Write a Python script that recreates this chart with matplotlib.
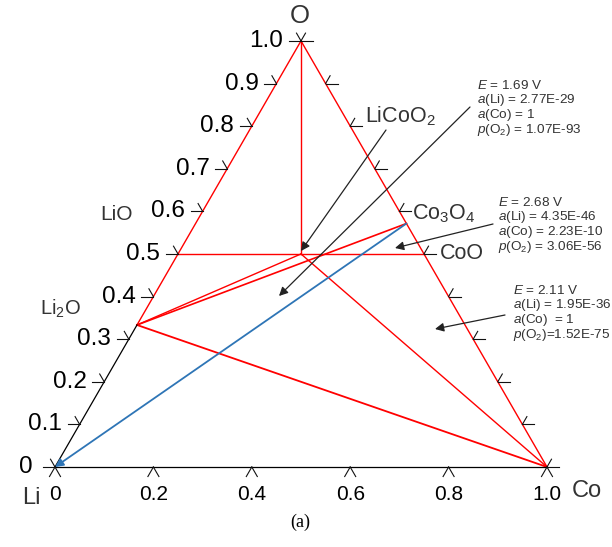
import numpy as np
import matplotlib
matplotlib.use('Agg')
import matplotlib.pyplot as plt

plt.rcParams['font.family'] = ['Liberation Sans', 'DejaVu Sans']
plt.rcParams['mathtext.fontset'] = 'custom'
plt.rcParams['mathtext.rm'] = 'Liberation Sans'
plt.rcParams['mathtext.it'] = 'Liberation Sans:italic'

# phases as (Li, Co, O) fractions
phase_names = ['Li', 'Co', 'O', 'Li2O', 'LiO', 'LiCoO2', 'Co3O4', 'CoO']
phase_comp = [(1, 0, 0), (0, 1, 0), (0, 0, 1), (2/3, 0, 1/3), (0.5, 0, 0.5),
              (0.25, 0.25, 0.5), (0, 3/7, 4/7), (0, 0.5, 0.5)]

# red tie lines / boundaries
red_lines = [('O', 'Co'), ('O', 'Li2O'), ('O', 'LiCoO2'), ('LiO', 'CoO'),
             ('Li2O', 'Co3O4'), ('Li2O', 'LiCoO2'), ('LiCoO2', 'Co')]
red_widths = [1.0, 1.0, 1.0, 1.0, 1.2, 1.0, 1.0]
thick_lines = [('Li2O', 'Co')]
black_lines = [('Li2O', 'Li'), ('Li', 'Co')]

left_ticks = [0, 0.1, 0.2, 0.3, 0.4, 0.5, 0.6, 0.7, 0.8, 0.9, 1.0]
left_labels = ['0', '0.1', '0.2', '0.3', '0.4', '0.5', '0.6', '0.7', '0.8', '0.9', '1.0']
bottom_ticks = [0, 0.2, 0.4, 0.6, 0.8, 1.0]
bottom_labels = ['0', '0.2', '0.4', '0.6', '0.8', '1.0']

notes = [
    [r'$\it{E}$ = 1.69 V', r'$\it{a}$(Li) = 2.77E-29', r'$\it{a}$(Co) = 1', r'$\it{p}$(O$_2$) = 1.07E-93'],
    [r'$\it{E}$ = 2.68 V', r'$\it{a}$(Li) = 4.35E-46', r'$\it{a}$(Co) = 2.23E-10', r'$\it{p}$(O$_2$) = 3.06E-56'],
    [r'$\it{E}$ = 2.11 V', r'$\it{a}$(Li) = 1.95E-36', r'$\it{a}$(Co)  = 1', r'$\it{p}$(O$_2$)=1.52E-75'],
]

H = np.sqrt(3) / 2
P = {n: (c[1] + c[2] / 2, c[2] * H) for n, c in zip(phase_names, phase_comp)}


def px(x, y):
    # pixel position -> data coordinates (layout only)
    return ((x - 55) / 492, (467 - y) / 492)


fig = plt.figure(figsize=(6.12, 5.47), dpi=100)
ax = fig.add_axes([0, 0, 1, 1])
ax.set_xlim(-55 / 492, 557 / 492)
ax.set_ylim(-80 / 492, 467 / 492)
ax.axis('off')

for (a, b), w in zip(red_lines, red_widths):
    ax.plot([P[a][0], P[b][0]], [P[a][1], P[b][1]], color='#ff0000', lw=w)
for a, b in thick_lines:
    ax.plot([P[a][0], P[b][0]], [P[a][1], P[b][1]], color='#ff0000', lw=1.3)
for a, b in black_lines:
    ax.plot([P[a][0], P[b][0]], [P[a][1], P[b][1]], color='black', lw=0.9)

# tick marks
L1, L2 = 12 / 492, 9 / 492
tk = dict(color='#111111', lw=0.8)
for f, lab in zip(left_ticks, left_labels):
    x0, y0 = f / 2, f * H
    ax.plot([x0 - L1, x0], [y0, y0], **tk)
    ax.plot([x0, x0 + L2 * np.cos(np.radians(120))], [y0, y0 + L2 * np.sin(np.radians(120))], **tk)
    off = 0.036 if f > 0 else 0.045
    ax.text(x0 - off, y0, lab, ha='right', va='center', fontsize=17.5, color='black')
    # right edge
    x1 = 1 - f / 2
    ax.plot([x1, x1 + L1], [y0, y0], **tk)
    ax.plot([x1, x1 + L2 * np.cos(np.radians(60))], [y0, y0 + L2 * np.sin(np.radians(60))], **tk)

L3 = 11 / 492
for t, lab in zip(bottom_ticks, bottom_labels):
    for ang in (240, 300):
        ax.plot([t, t + L3 * np.cos(np.radians(ang))], [0, L3 * np.sin(np.radians(ang))], **tk)
    ax.text(t, -27 / 492, lab, ha='center', va='center', fontsize=15, color='black')

# blue line Co3O4 -> Li
ax.annotate('', xy=P['Li'], xytext=P['Co3O4'],
            arrowprops=dict(arrowstyle='-|>', color='#2e75b6', lw=1.3, mutation_scale=12,
                            shrinkA=0, shrinkB=0))

# element / phase labels
lc = '#333333'
ax.text(*px(300, 16), 'O', ha='center', va='center', fontsize=18.5, color=lc)
ax.text(*px(31, 498), 'Li', ha='center', va='center', fontsize=17, color=lc)
ax.text(*px(587, 491), 'Co', ha='center', va='center', fontsize=17, color=lc)
ax.text(*px(117, 214), 'LiO', ha='center', va='center', fontsize=15, color=lc)
ax.text(*px(60, 309), r'Li$_2$O', ha='center', va='center', fontsize=14.5, color=lc)
ax.text(*px(400, 116), r'LiCoO$_2$', ha='center', va='center', fontsize=15.5, color=lc)
ax.text(*px(444, 214), r'Co$_3$O$_4$', ha='center', va='center', fontsize=15.5, color=lc)
ax.text(*px(462, 253), 'CoO', ha='center', va='center', fontsize=15.5, color=lc)

# annotations
note_pos = [px(477, 85), px(498, 202), px(513, 290)]
for lines, (x, y) in zip(notes, note_pos):
    for i, s in enumerate(lines):
        ax.text(x, y - i * 15 / 492, s, ha='left', va='center', fontsize=9.7, color=lc)

arrows = [(px(386, 130), px(301, 251)), (px(470, 107), px(279, 296)),
          (px(493, 224), px(395, 248)), (px(505, 315), px(435, 329))]
for start, end in arrows:
    ax.annotate('', xy=end, xytext=start,
                arrowprops=dict(arrowstyle='-|>', color='#222222', lw=0.9, mutation_scale=13,
                                shrinkA=0, shrinkB=0))

fig.text(300 / 612, 1 - 522 / 547, '(a)', ha='center', va='center', fontsize=13,
         family='Liberation Serif', color='black')

fig.savefig('out.png', dpi=100)
